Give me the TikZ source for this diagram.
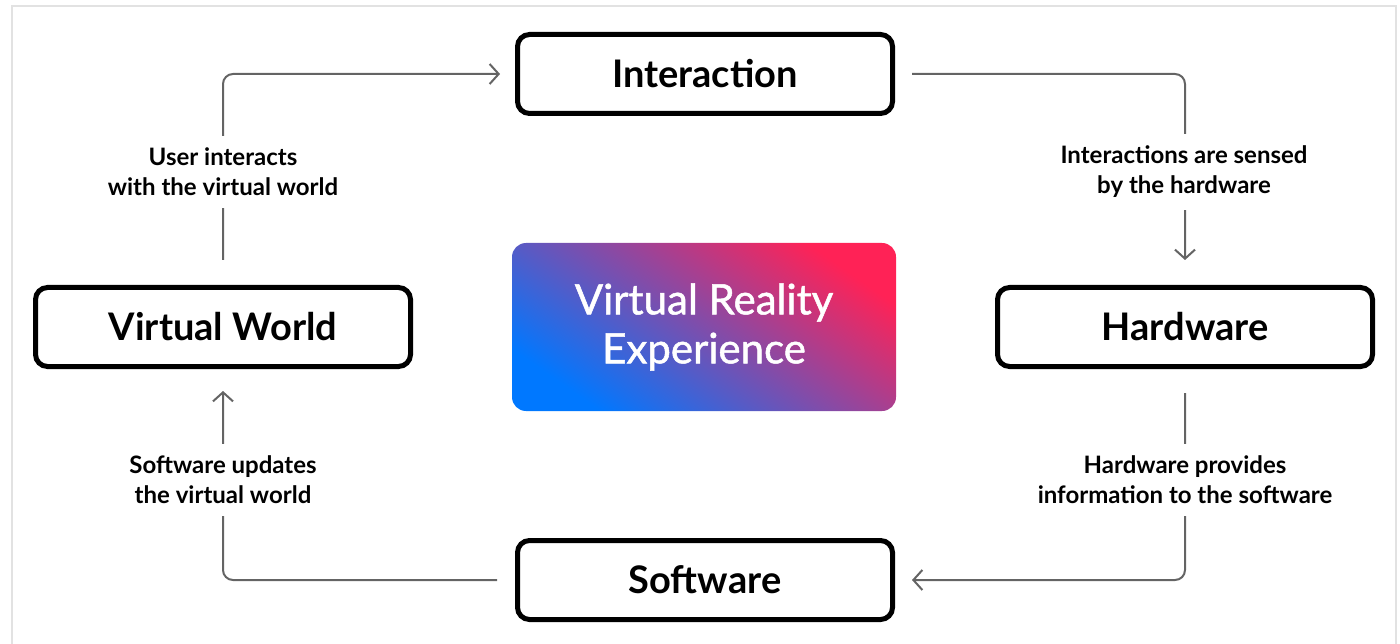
\documentclass[tikz,border=0pt]{standalone}
\usepackage{fontspec}
\setmainfont{Lato}
\newfontfamily\latomid{Lato}[FakeBold=1.2]
\usepackage{xcolor}
\usetikzlibrary{arrows.meta}

\definecolor{vrblue}{RGB}{0,120,255}
\definecolor{vrred}{RGB}{255,34,86}
\definecolor{linkgray}{RGB}{100,100,100}
\definecolor{framegray}{RGB}{226,226,226}

\begin{document}
\begin{tikzpicture}[x=1pt,y=-1pt,>={Straight Barb[length=9pt,width=20pt]},
                        stage/.style={draw,rounded corners=12pt,line width=5pt,fill=white,
                          minimum width=375pt,minimum height=79pt,
                          font=\fontsize{38}{46}\selectfont\bfseries},
                        core/.style={rounded corners=14pt,minimum width=384pt,minimum height=168pt,
                          top color=vrred,bottom color=vrblue,middle color=vrred!50!vrblue,shading angle=-35,
                          text=white,align=center,font=\fontsize{42}{49}\selectfont\latomid},
                        link/.style={->,draw=linkgray,line width=2pt,rounded corners=10pt},
                        note/.style={fill=white,align=center,inner xsep=4pt,inner ysep=12pt,
                          font=\fontsize{24}{30}\selectfont\bfseries}]
  \useasboundingbox (0,0) rectangle (1400,644);
  \draw[framegray,line width=1.5pt] (12,644) -- (12,6) -- (1396,6) -- (1396,644);

  \node[stage] (inter) at (705,74) {Interaction};
  \node[stage] (vw) at (223,327) {Virtual World};
  \node[stage] (hw) at (1185,327) {Hardware};
  \node[stage] (sw) at (705,580) {Software};
  \node[core] (vr) at (704,327) {Virtual Reality\\Experience};

  % the cycle
  \draw[link,shorten <=25pt,shorten >=15pt] (vw.north) |- (inter.west);
  \draw[link,shorten <=17pt,shorten >=25pt] (inter.east) -| (hw.north);
  \draw[link,shorten <=24pt,shorten >=17pt] (hw.south) |- (sw.east);
  \draw[link,shorten <=18pt,shorten >=22pt] (sw.west) -| (vw.south);

  \node[note] (n1) at (223,172) {User interacts\\with the virtual world};
  \node[note] (n2) at (1184,172) {Interactions are sensed\\by the hardware};
  \node[note] (n3) at (1185,480) {Hardware provides\\information to the software};
  \node[note] (n4) at (223,480) {Software updates\\the virtual world};
\end{tikzpicture}
\end{document}
